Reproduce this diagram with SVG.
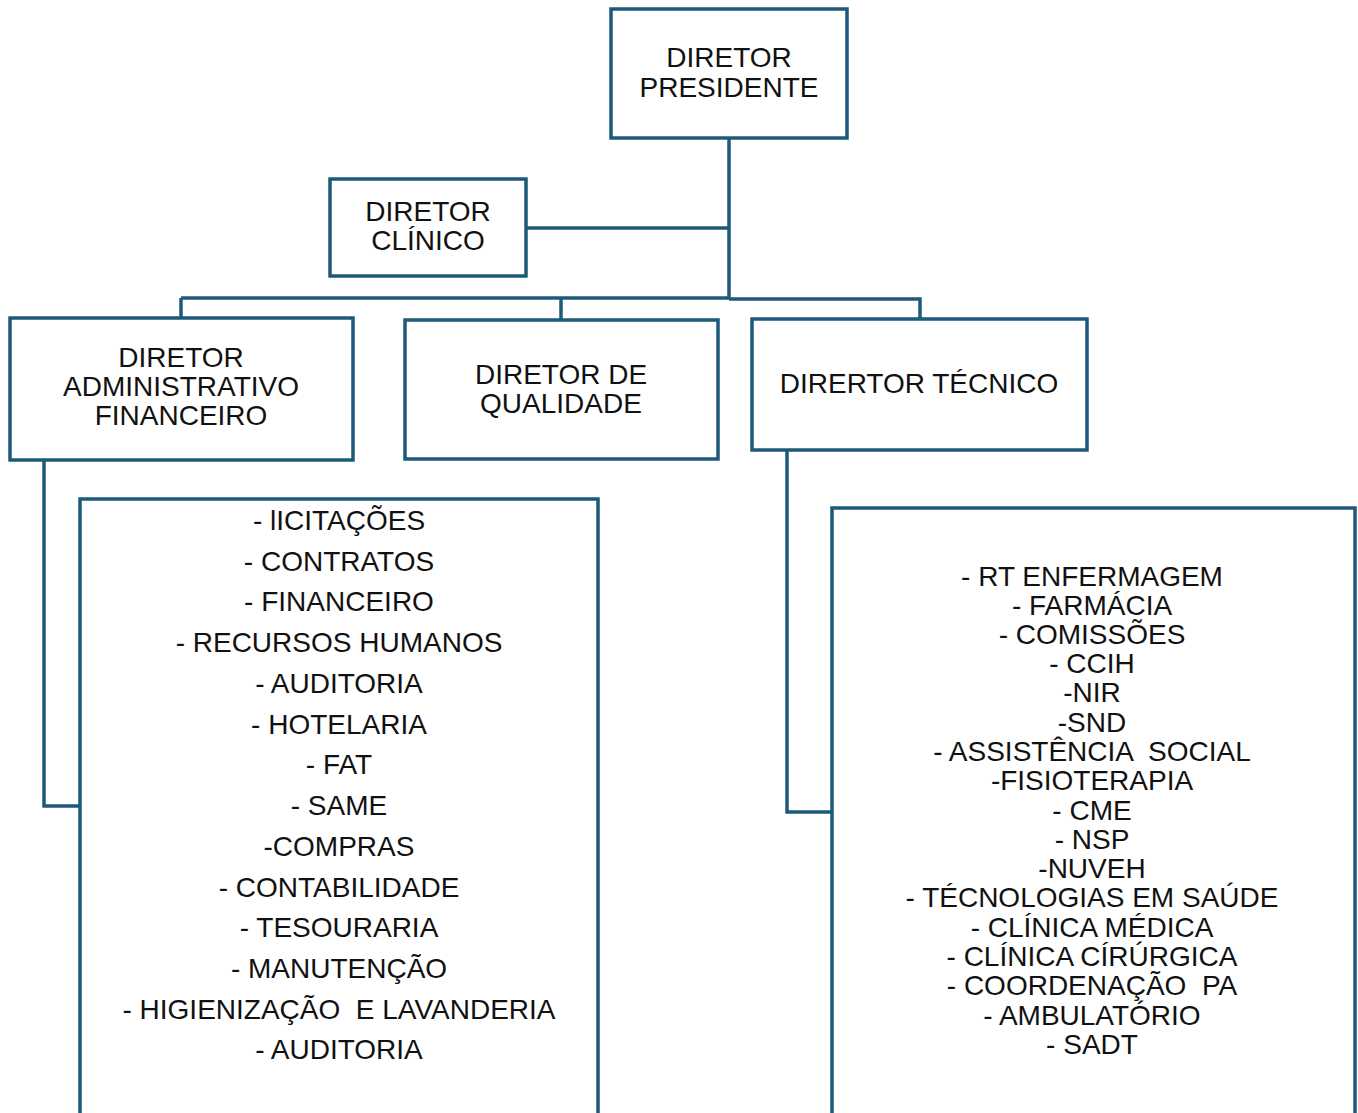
<svg xmlns="http://www.w3.org/2000/svg" width="1358" height="1113" viewBox="0 0 1358 1113">
<style>
.box{fill:#fff;stroke:#1d5a79;stroke-width:3.5}
.ln{fill:none;stroke:#1d5a79;stroke-width:3.5}
text{font-family:"Liberation Sans",Arial,sans-serif;font-size:28px;fill:#111;text-anchor:middle}
</style>
<rect width="1358" height="1113" fill="#fff"/>
<g id="connectors">
<path class="ln" d="M729 138V299"/>
<path class="ln" d="M526 228H729"/>
<path class="ln" stroke-width="4.5" d="M181 298H729"/>
<path class="ln" d="M729 299H920V319"/>
<path class="ln" d="M181 298V318"/>
<path class="ln" d="M561 298V320"/>
<path class="ln" d="M44 460V806H80"/>
<path class="ln" d="M787 450V812H832"/>
</g>
<g id="presidente">
<rect class="box" x="611" y="9" width="236" height="129"/>
<text x="729" y="67">DIRETOR</text>
<text x="729" y="97">PRESIDENTE</text>
</g>
<g id="clinico">
<rect class="box" x="330" y="179" width="196" height="97"/>
<text x="428" y="221">DIRETOR</text>
<text x="428" y="250">CLÍNICO</text>
</g>
<g id="administrativo">
<rect class="box" x="10" y="318" width="343" height="142"/>
<text x="181" y="367">DIRETOR</text>
<text x="181" y="396">ADMINISTRATIVO</text>
<text x="181" y="425">FINANCEIRO</text>
</g>
<g id="qualidade">
<rect class="box" x="405" y="320" width="313" height="139"/>
<text x="561" y="384">DIRETOR DE</text>
<text x="561" y="413">QUALIDADE</text>
</g>
<g id="tecnico">
<rect class="box" x="752" y="319" width="335" height="131"/>
<text x="919" y="393">DIRERTOR TÉCNICO</text>
</g>
<g id="lista-administrativo">
<rect class="box" x="80" y="499" width="518" height="616"/>
<text x="339" y="530">- lICITAÇÕES</text>
<text x="339" y="571">- CONTRATOS</text>
<text x="339" y="611">- FINANCEIRO</text>
<text x="339" y="652">- RECURSOS HUMANOS</text>
<text x="339" y="693">- AUDITORIA</text>
<text x="339" y="734">- HOTELARIA</text>
<text x="339" y="774">- FAT</text>
<text x="339" y="815">- SAME</text>
<text x="339" y="856">-COMPRAS</text>
<text x="339" y="897">- CONTABILIDADE</text>
<text x="339" y="937">- TESOURARIA</text>
<text x="339" y="978">- MANUTENÇÃO</text>
<text x="339" y="1019" xml:space="preserve">- HIGIENIZAÇÃO  E LAVANDERIA</text>
<text x="339" y="1059">- AUDITORIA</text>
</g>
<g id="lista-tecnico">
<rect class="box" x="832" y="508" width="523" height="607"/>
<text x="1092" y="586">- RT ENFERMAGEM</text>
<text x="1092" y="615">- FARMÁCIA</text>
<text x="1092" y="644">- COMISSÕES</text>
<text x="1092" y="673">- CCIH</text>
<text x="1092" y="702">-NIR</text>
<text x="1092" y="732">-SND</text>
<text x="1092" y="761" xml:space="preserve">- ASSISTÊNCIA  SOCIAL</text>
<text x="1092" y="790">-FISIOTERAPIA</text>
<text x="1092" y="820">- CME</text>
<text x="1092" y="849">- NSP</text>
<text x="1092" y="878">-NUVEH</text>
<text x="1092" y="907">- TÉCNOLOGIAS EM SAÚDE</text>
<text x="1092" y="937">- CLÍNICA MÉDICA</text>
<text x="1092" y="966">- CLÍNICA CÍRÚRGICA</text>
<text x="1092" y="995" xml:space="preserve">- COORDENAÇÃO  PA</text>
<text x="1092" y="1025">- AMBULATÓRIO</text>
<text x="1092" y="1054">- SADT</text>
</g>
</svg>
